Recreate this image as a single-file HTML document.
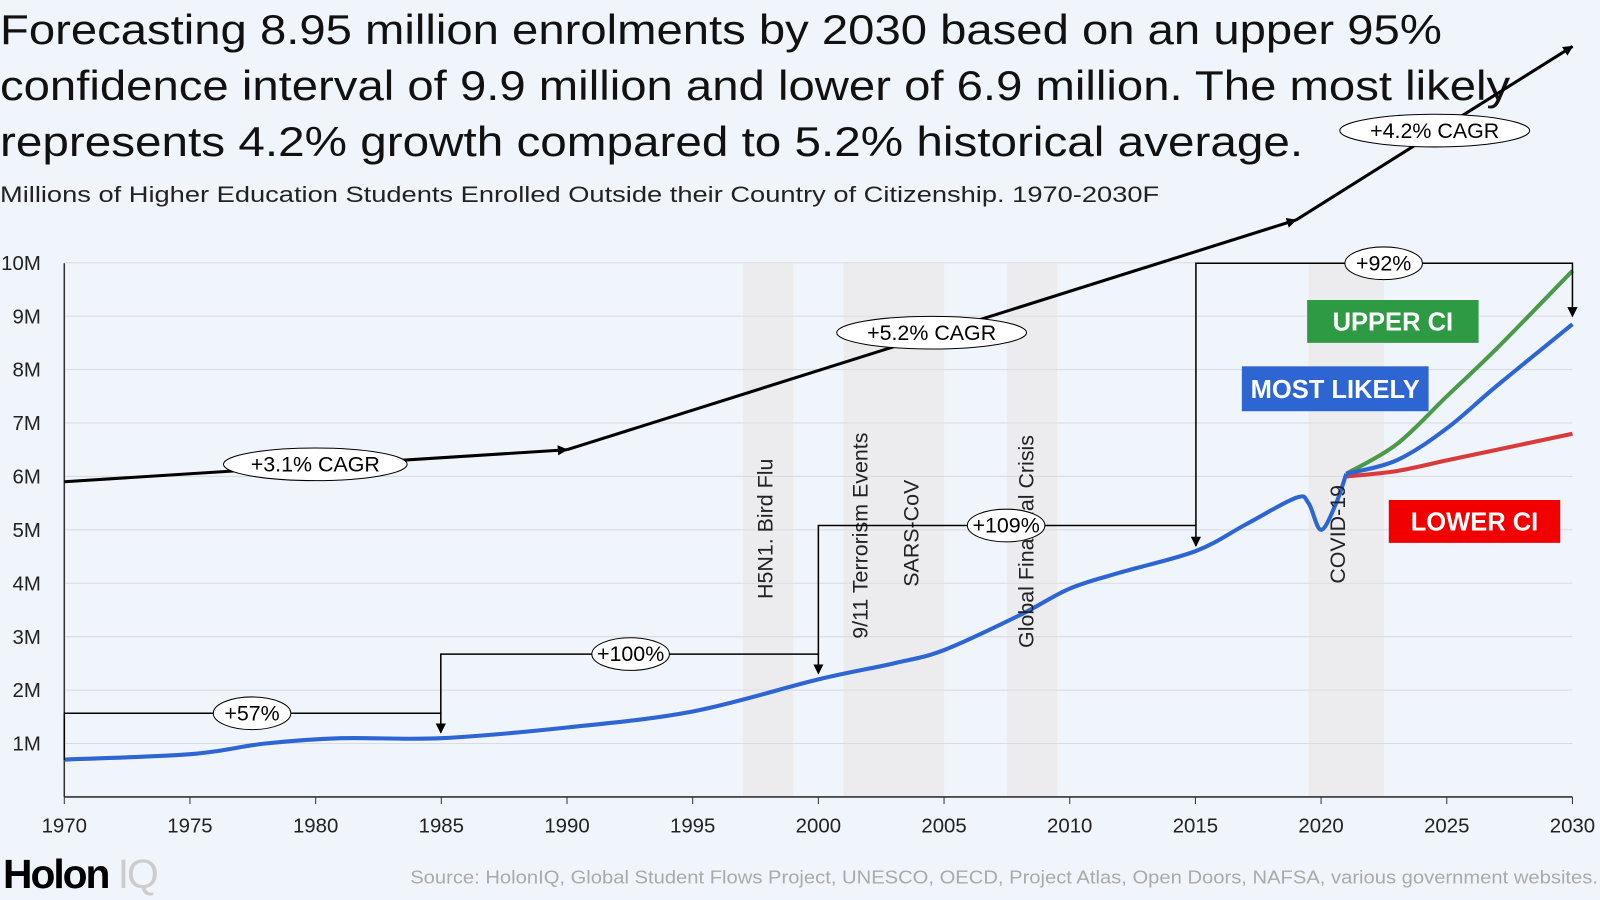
<!DOCTYPE html>
<html><head><meta charset="utf-8"><style>
body{margin:0;background:#f0f4fb;font-family:"Liberation Sans",sans-serif;}
#wrap{position:relative;width:1600px;height:900px;overflow:hidden;background:#f0f4fb;}
</style></head><body>
<div id="wrap">
<svg id="chart" width="1600" height="900" viewBox="0 0 1568 882">
<text x="0" y="43" font-size="41" fill="#111" textLength="1413" lengthAdjust="spacingAndGlyphs">Forecasting 8.95 million enrolments by 2030 based on an upper 95%</text>
<text x="0" y="98" font-size="41" fill="#111" textLength="1480" lengthAdjust="spacingAndGlyphs">confidence interval of 9.9 million and lower of 6.9 million. The most likely</text>
<text x="0" y="153" font-size="41" fill="#111" textLength="1277" lengthAdjust="spacingAndGlyphs">represents 4.2% growth compared to 5.2% historical average.</text>
<text x="0" y="198" font-size="22" fill="#222" textLength="1136" lengthAdjust="spacingAndGlyphs">Millions of Higher Education Students Enrolled Outside their Country of Citizenship. 1970-2030F</text>
<text x="3" y="870" font-size="40" font-weight="bold" fill="#000" letter-spacing="-2">Holon <tspan fill="#ccc" font-weight="normal">IQ</tspan></text>
<text x="1566" y="866" font-size="18" fill="#aaa" text-anchor="end" textLength="1164" lengthAdjust="spacingAndGlyphs">Source: HolonIQ, Global Student Flows Project, UNESCO, OECD, Project Atlas, Open Doors, NAFSA, various government websites.</text>
<g id="bands"></g><g id="grid"></g><g id="axes"></g><g id="lines"></g><g id="annot"></g>
</svg>
</div>
<script>
const xTicks=[1970,1975,1980,1985,1990,1995,2000,2005,2010,2015,2020,2025,2030];
const yTicks=[1,2,3,4,5,6,7,8,9,10];
const histYears=[1970,1975,1978,1981,1985,1990,1995,2000,2003,2005,2008,2010,2012,2015,2017,2019,2019.5,2020,2020.6,2021];
const histVals=[0.7,0.8,1.0,1.1,1.1,1.3,1.6,2.2,2.5,2.75,3.4,3.9,4.2,4.6,5.1,5.6,5.5,5.0,5.5,6.05];
const fcYears=[2021,2023,2025,2027,2030];
const likelyVals=[6.05,6.3,6.9,7.7,8.85];
const upperVals=[6.05,6.6,7.5,8.4,9.85];
const lowerVals=[6.0,6.1,6.3,6.5,6.8];
const trendYears=[1970,1990,2019,2030];
const trendVals=[5.9,6.5,10.8,14.05];
const events=[["H5N1. Bird Flu",1997,1999],["9/11 Terrorism Events",2001,2005],["SARS-CoV",2001,2005],["Global Financial Crisis",2007.5,2009.5],["COVID-19",2019.5,2022.5]];
const ns="http://www.w3.org/2000/svg";
const X=y=>63+(y-1970)*(1541-63)/60;
const Y=v=>781-v*52.35;
function mk(t,a,p){const e=document.createElementNS(ns,t);for(const k in a)e.setAttribute(k,a[k]);p.appendChild(e);return e;}
const bands=document.getElementById('bands'),grid=document.getElementById('grid'),axes=document.getElementById('axes'),lines=document.getElementById('lines'),annot=document.getElementById('annot');
const seen={};
events.forEach(ev=>{const k=ev[1]+'-'+ev[2];if(!seen[k]){seen[k]=1;const r=mk('rect',{x:X(ev[1]),y:258,width:X(ev[2])-X(ev[1]),height:523,fill:'#ececee'},bands);

}});
const evLab=[[757,587,"H5N1. Bird Flu"],[850,626,"9/11 Terrorism Events"],[900,575,"SARS-CoV"],[1013,635,"Global Financial Crisis"],[1318,572,"COVID-19"]];
evLab.forEach(l=>{const t=mk('text',{x:l[0],y:l[1],transform:`rotate(-90 ${l[0]} ${l[1]})`,'font-size':21,fill:'#222'},annot);t.textContent=l[2];

});
yTicks.forEach(v=>{const l=mk('line',{x1:63,x2:1541,y1:Y(v),y2:Y(v),stroke:'#d8dbe0','stroke-width':1},grid);


const t=mk('text',{x:40,y:Y(v)+7,'font-size':20,fill:'#222','text-anchor':'end'},axes);t.textContent=v+'M';

});
mk('line',{x1:63,x2:1541,y1:781,y2:781,stroke:'#333','stroke-width':1.5},axes);
mk('line',{x1:63,x2:63,y1:258,y2:781,stroke:'#333','stroke-width':1.5},axes);
xTicks.forEach(v=>{mk('line',{x1:X(v),x2:X(v),y1:781,y2:788,stroke:'#333'},axes);
const t=mk('text',{x:X(v),y:816,'font-size':20,fill:'#222','text-anchor':'middle'},axes);t.textContent=v;

});
function smooth(xs,vs){const p=xs.map((x,i)=>[X(x),Y(vs[i])]);let d=`M${p[0][0]},${p[0][1]}`;
for(let i=0;i<p.length-1;i++){const p0=p[i-1]||p[i],p1=p[i],p2=p[i+1],p3=p[i+2]||p2;
d+=` C${p1[0]+(p2[0]-p0[0])/6},${p1[1]+(p2[1]-p0[1])/6} ${p2[0]-(p3[0]-p1[0])/6},${p2[1]-(p3[1]-p1[1])/6} ${p2[0]},${p2[1]}`;}return d;}
const defs=mk('defs',{},document.getElementById('chart'));
const m=mk('marker',{id:'ar',markerWidth:10,markerHeight:10,refX:9,refY:5,orient:'auto',markerUnits:'userSpaceOnUse'},defs);
mk('path',{d:'M0,0 L10,5 L0,10 Z',fill:'#000'},m);
[[upperVals,'#4a9a4a','upper-ci-line'],[lowerVals,'#d93a3a','lower-ci-line'],[likelyVals,'#2d66d2','most-likely-line']].forEach(s=>{
const p=mk('path',{d:smooth(fcYears,s[0]),fill:'none',stroke:s[1],'stroke-width':4},lines);

});
const h=mk('path',{d:smooth(histYears,histVals),fill:'none',stroke:'#2d66d2','stroke-width':4},lines);


for(let i=0;i<trendYears.length-1;i++){const l=mk('line',{x1:X(trendYears[i]),y1:Y(trendVals[i]),x2:X(trendYears[i+1]),y2:Y(trendVals[i+1]),stroke:'#000','stroke-width':3,'marker-end':'url(#ar)'},annot);

}
function pill(cx,cy,w,txt,name){const g=mk('g',{},annot);

mk('ellipse',{cx,cy,rx:w/2,ry:16,fill:'#fff',stroke:'#000','stroke-width':1},g);
const t=mk('text',{x:cx,y:cy+7,'font-size':21,'text-anchor':'middle',fill:'#000'},g);t.textContent=txt;}
function bracket(x1,x2,yy,y1,y2,lab,lx,name){mk('path',{d:`M${x1},${y1} L${x1},${yy} L${x2},${yy} L${x2},${y2}`,fill:'none',stroke:'#000','stroke-width':1.5,'marker-end':'url(#ar)'},annot);pill(lx,yy,76,lab,name);}
bracket(63,432,699,745,718,'+57%',247,'growth-label-57');
bracket(432,802,641,699,660,'+100%',618,'growth-label-100');
bracket(802,1172,515,641,535,'+109%',986,'growth-label-109');
bracket(1172,1541,258,515,310,'+92%',1356,'growth-label-92');
pill(309,455,180,'+3.1% CAGR','cagr-label-3-1');
pill(913,326,186,'+5.2% CAGR','cagr-label-5-2');
pill(1406,128,186,'+4.2% CAGR','cagr-label-4-2');
function tag(x,y,w,hh,c,txt,name){const g=mk('g',{},annot);

mk('rect',{x,y,width:w,height:hh,fill:c},g);const t=mk('text',{x:x+w/2,y:y+hh/2+9,'font-size':25,'font-weight':'bold','text-anchor':'middle',fill:'#fff'},g);t.textContent=txt;}
tag(1281,294,168,42,'#2e9a44','UPPER CI','upper-ci-legend');
tag(1217,359,183,44,'#2d66d2','MOST LIKELY','most-likely-legend');
tag(1361,490,168,42,'#f20000','LOWER CI','lower-ci-legend');
</script>
</body></html>
